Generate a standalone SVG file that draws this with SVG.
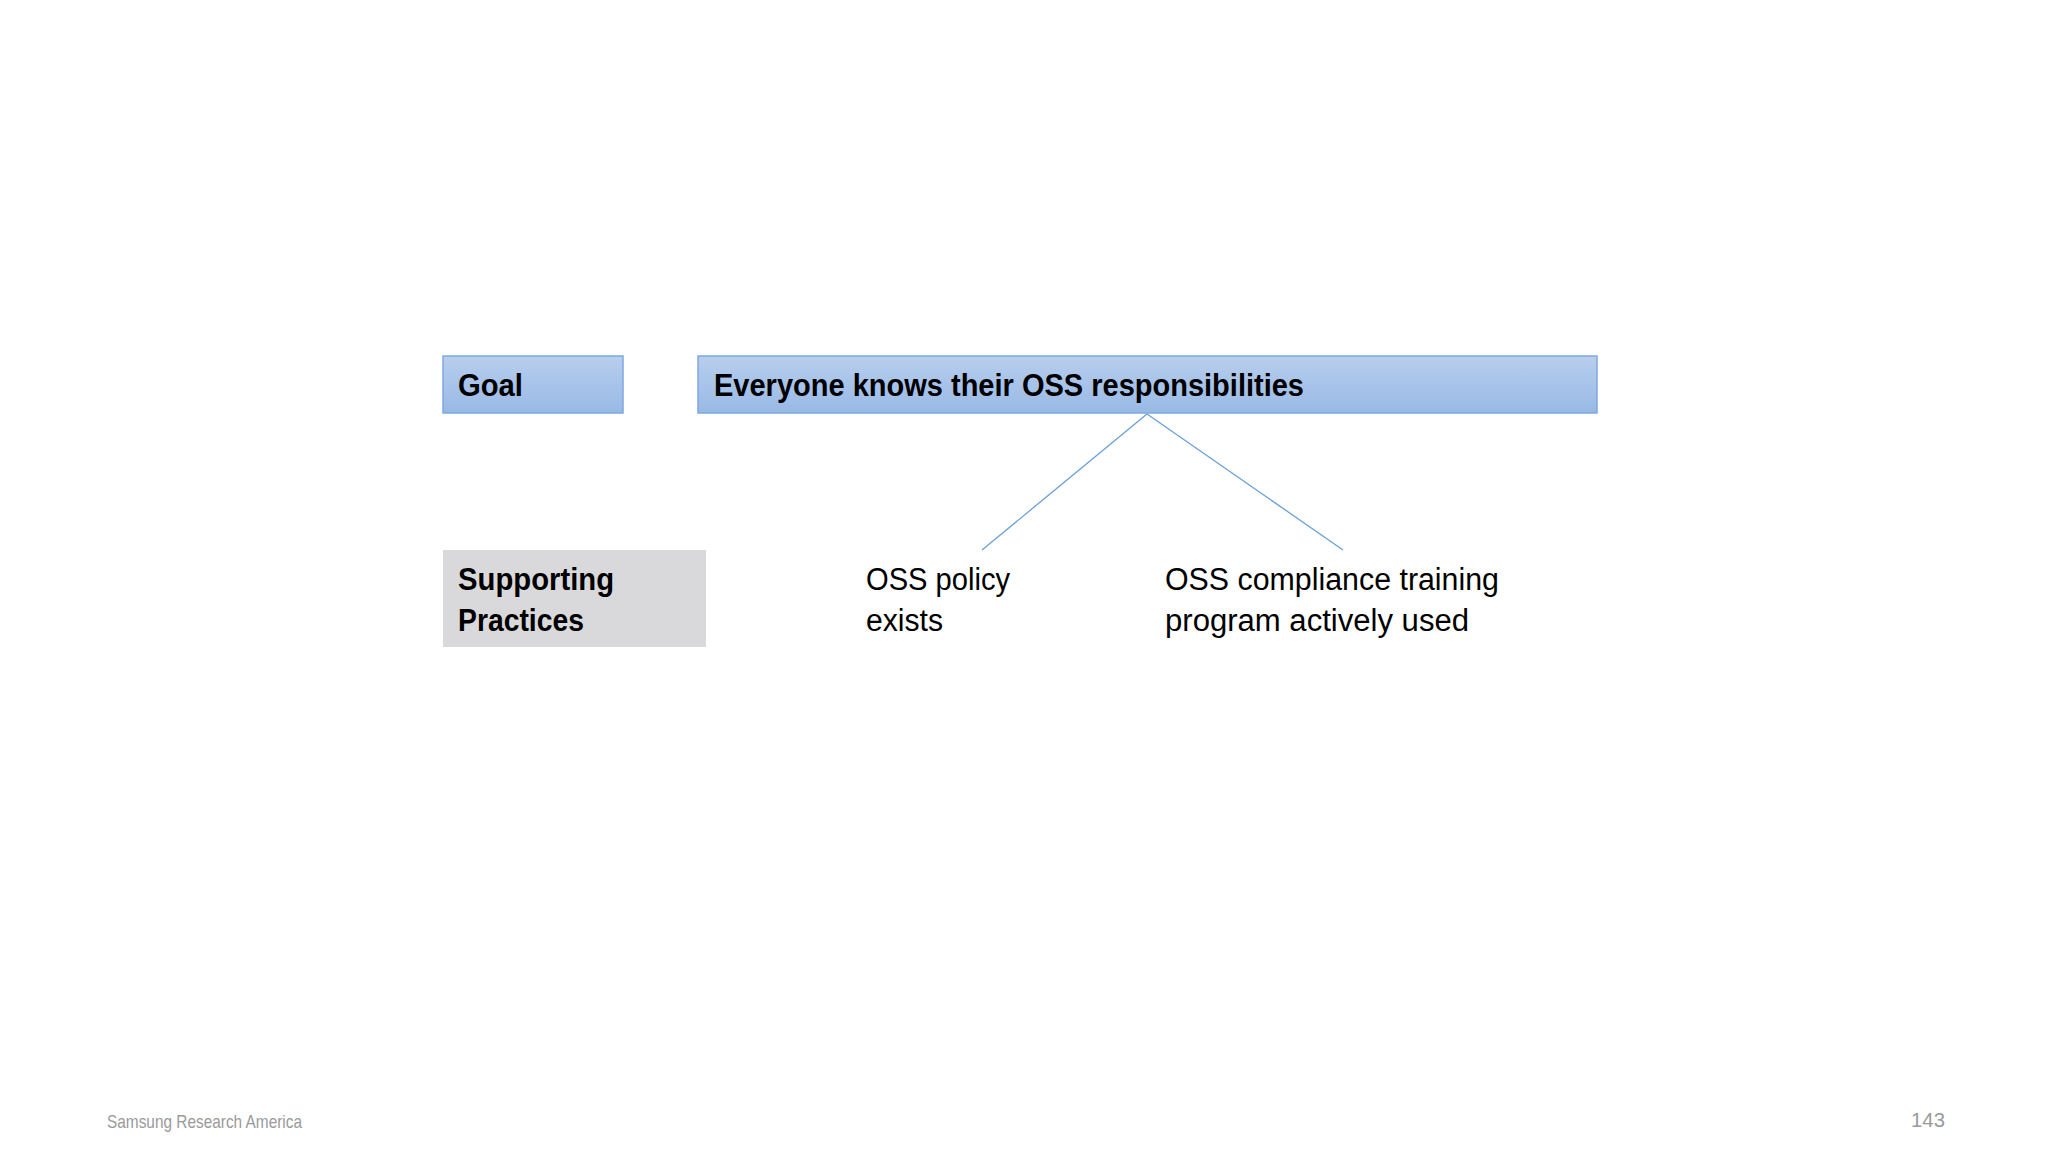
<svg xmlns="http://www.w3.org/2000/svg" width="2048" height="1152" viewBox="0 0 2048 1152">
<defs>
<linearGradient id="blue" x1="0" y1="0" x2="0" y2="1">
<stop offset="0" stop-color="#b8ceed"/>
<stop offset="1" stop-color="#98b9e6"/>
</linearGradient>
</defs>
<style>
.box{fill:url(#blue);stroke:#7fa8e0;stroke-width:1.5}
.gray{fill:#d9d9db}
.b{font-family:"Liberation Sans",Arial,sans-serif;font-weight:bold;font-size:31px;fill:#000}
.r{font-family:"Liberation Sans",Arial,sans-serif;font-size:31px;fill:#000}
.ft{font-family:"Liberation Sans",Arial,sans-serif;fill:#9a9a9a}
.conn{stroke:#6a9fd8;stroke-width:1.3;fill:none}
</style>
<rect width="2048" height="1152" fill="#ffffff"/>
<g id="goal-label">
<rect class="box" x="443" y="356" width="180" height="57"/>
<text class="b" x="458" y="396" textLength="65" lengthAdjust="spacingAndGlyphs">Goal</text>
</g>
<g id="goal">
<rect class="box" x="698" y="356" width="899" height="57"/>
<text class="b" x="714" y="396" textLength="590" lengthAdjust="spacingAndGlyphs">Everyone knows their OSS responsibilities</text>
</g>
<g id="practices-label">
<rect class="gray" x="443" y="550" width="263" height="97"/>
<text class="b" x="458" y="590" textLength="156" lengthAdjust="spacingAndGlyphs">Supporting</text>
<text class="b" x="458" y="631" textLength="126" lengthAdjust="spacingAndGlyphs">Practices</text>
</g>
<g id="policy">
<text class="r" x="866" y="590" textLength="144" lengthAdjust="spacingAndGlyphs">OSS policy</text>
<text class="r" x="866" y="631" textLength="77" lengthAdjust="spacingAndGlyphs">exists</text>
</g>
<g id="training">
<text class="r" x="1165" y="590" textLength="334" lengthAdjust="spacingAndGlyphs">OSS compliance training</text>
<text class="r" x="1165" y="631" textLength="304" lengthAdjust="spacingAndGlyphs">program actively used</text>
</g>
<g id="connectors">
<line class="conn" x1="1147" y1="414" x2="982" y2="550"/>
<line class="conn" x1="1147" y1="414" x2="1343" y2="550"/>
</g>
<g id="footer">
<text class="ft" x="107" y="1128" font-size="19" textLength="195" lengthAdjust="spacingAndGlyphs">Samsung Research America</text>
<text class="ft" x="1911" y="1127" font-size="21" textLength="34" lengthAdjust="spacingAndGlyphs">143</text>
</g>
</svg>
